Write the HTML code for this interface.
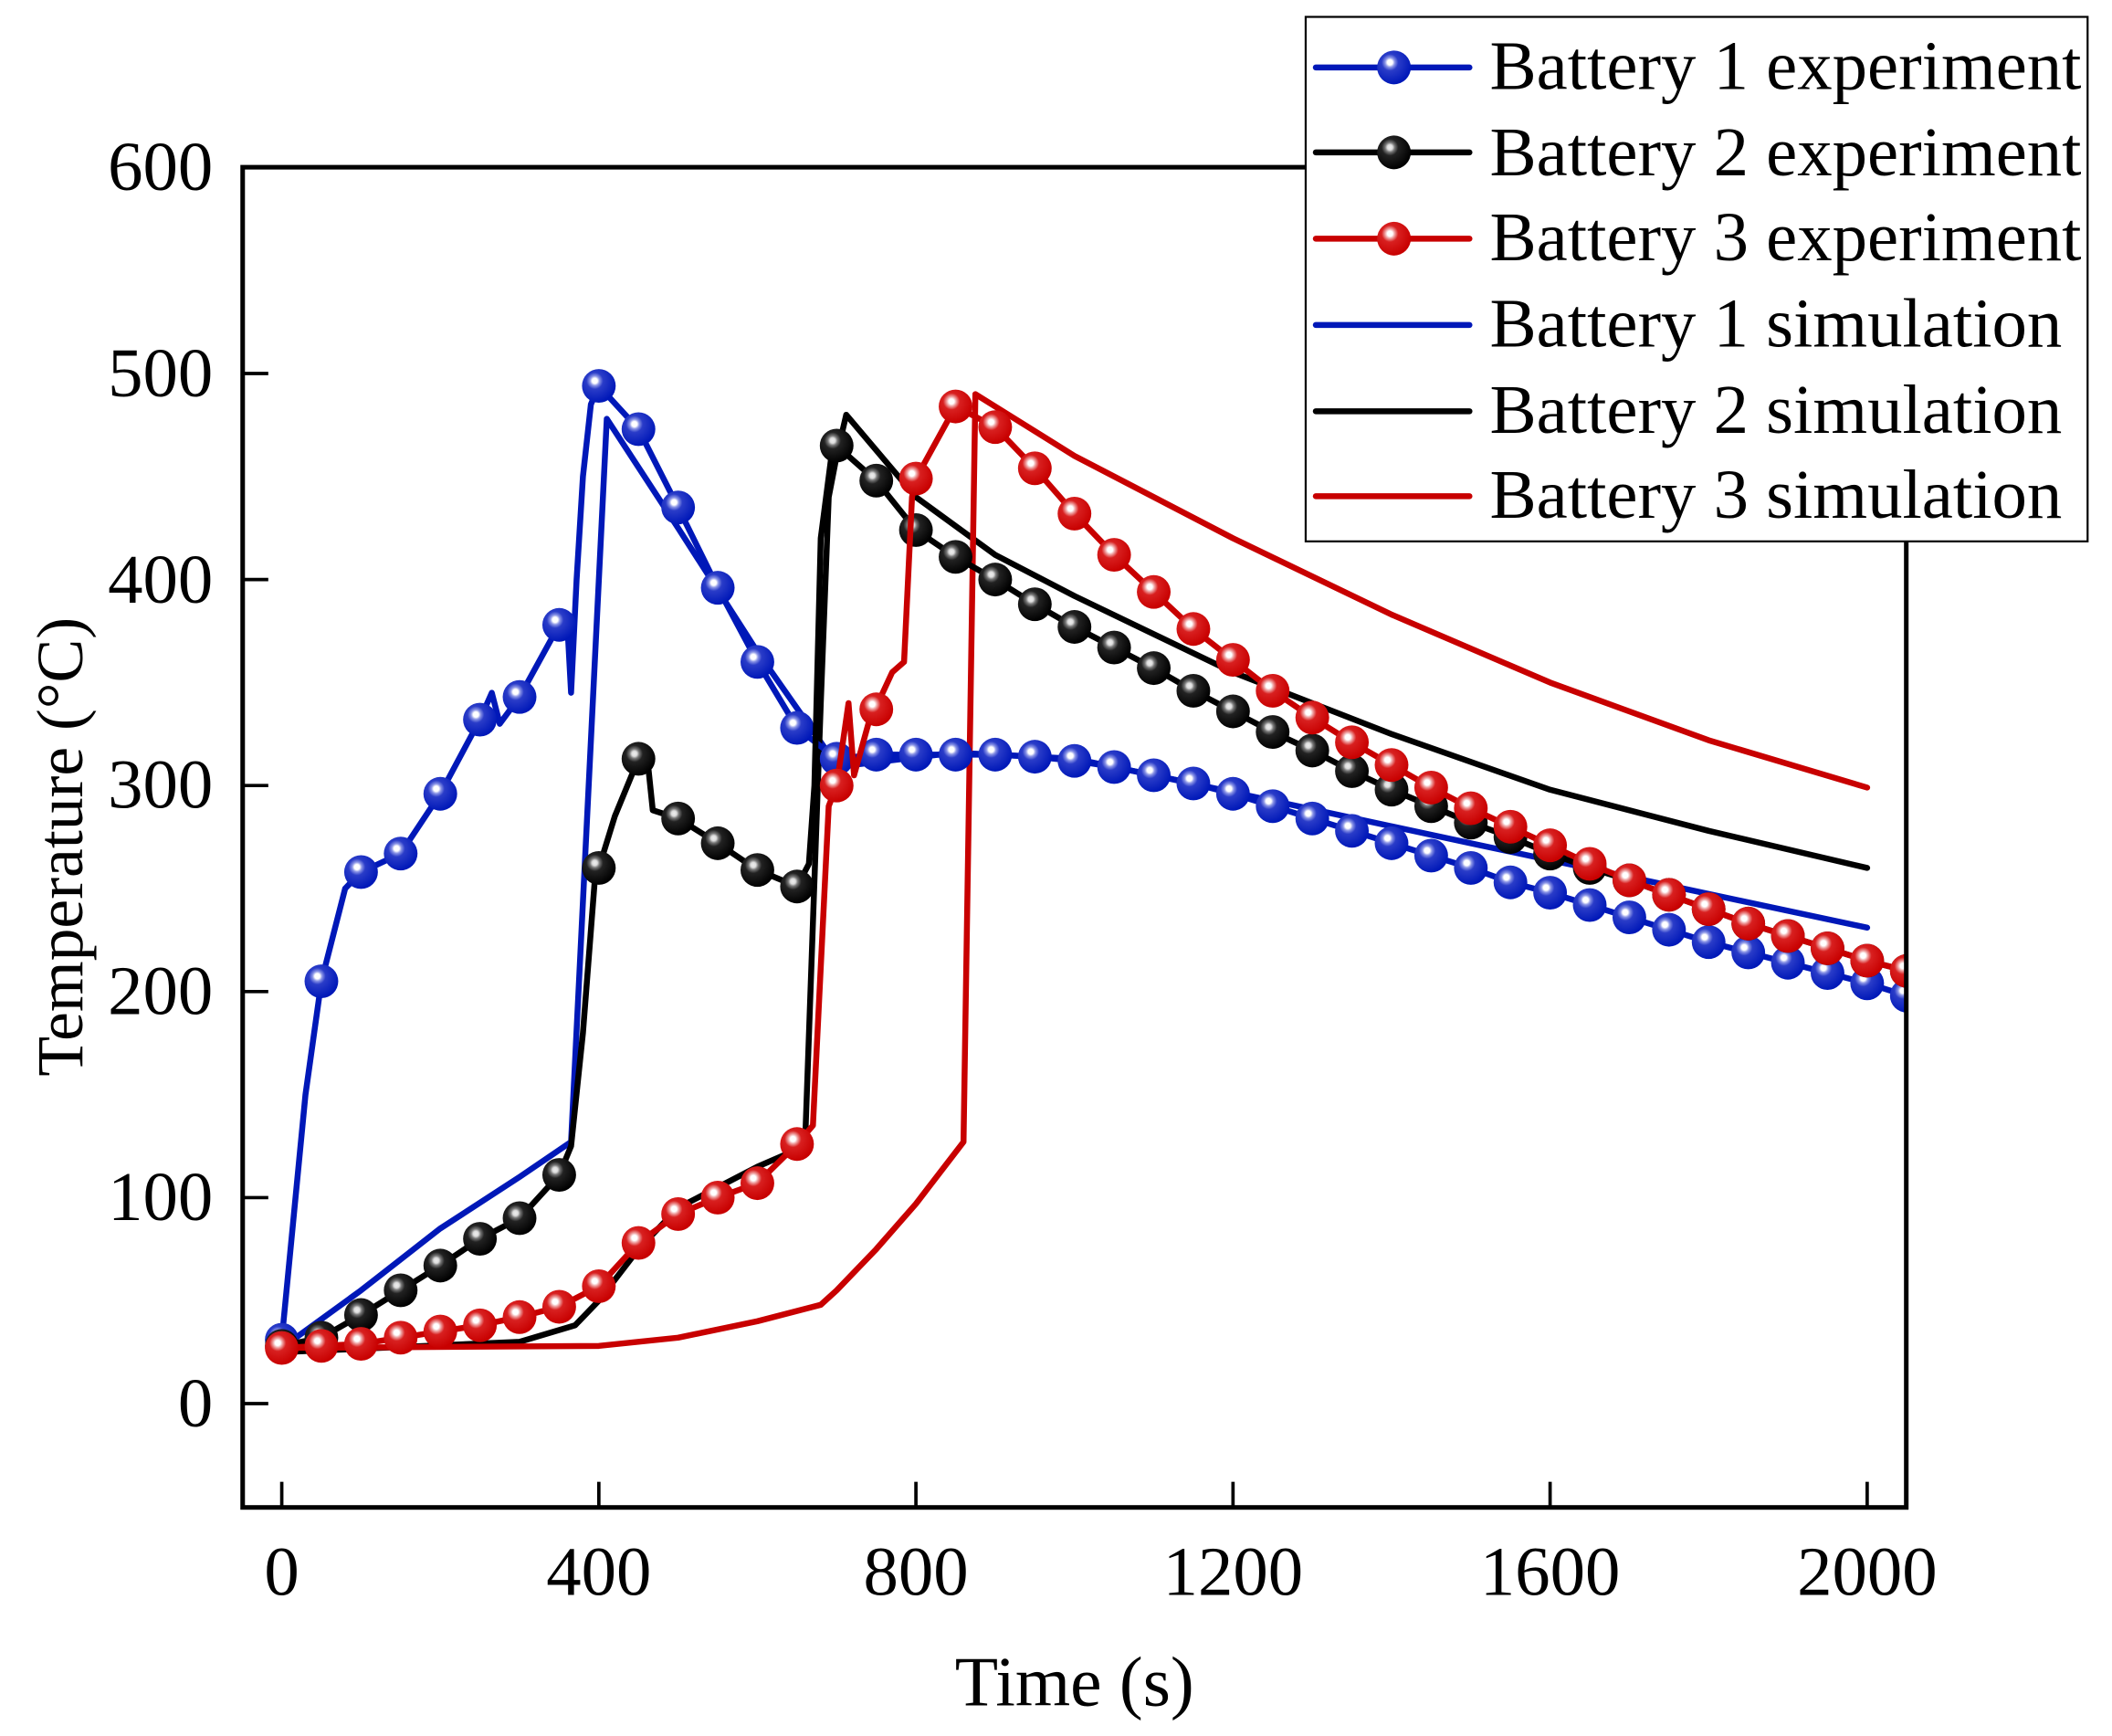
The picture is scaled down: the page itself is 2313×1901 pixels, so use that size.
<!DOCTYPE html>
<html><head><meta charset="utf-8"><style>html,body{margin:0;padding:0;background:#fff}svg{display:block}</style></head>
<body>
<svg id="s" width="2313" height="1901" viewBox="0 0 1566.6 1287.5" xmlns="http://www.w3.org/2000/svg" font-family="'Liberation Serif',serif">
<defs>
<radialGradient id="gb" cx="0.38" cy="0.35" r="0.65"><stop offset="0" stop-color="#fff"/><stop offset="0.12" stop-color="#fff"/><stop offset="0.22" stop-color="#8a94e6"/><stop offset="0.38" stop-color="#2a3cc8"/><stop offset="1" stop-color="#0018b8"/></radialGradient>
<radialGradient id="gk" cx="0.38" cy="0.35" r="0.65"><stop offset="0" stop-color="#eee"/><stop offset="0.12" stop-color="#ddd"/><stop offset="0.22" stop-color="#777"/><stop offset="0.38" stop-color="#222"/><stop offset="1" stop-color="#000"/></radialGradient>
<radialGradient id="gr" cx="0.38" cy="0.35" r="0.65"><stop offset="0" stop-color="#fff"/><stop offset="0.12" stop-color="#fff"/><stop offset="0.22" stop-color="#eea0a0"/><stop offset="0.38" stop-color="#d82020"/><stop offset="1" stop-color="#c80000"/></radialGradient>
<clipPath id="cp"><rect x="180" y="124" width="1234" height="994"/></clipPath>
</defs>
<g id="data" clip-path="url(#cp)"></g>
<rect x="180" y="124" width="1234" height="994" fill="none" stroke="#000" stroke-width="3.4"/>
<g stroke="#000" stroke-width="2.5">
<line x1="209" y1="1118" x2="209" y2="1099"/><line x1="444.2" y1="1118" x2="444.2" y2="1099"/><line x1="679.4" y1="1118" x2="679.4" y2="1099"/><line x1="914.6" y1="1118" x2="914.6" y2="1099"/><line x1="1149.8" y1="1118" x2="1149.8" y2="1099"/><line x1="1385" y1="1118" x2="1385" y2="1099"/>
<line x1="180" y1="1041" x2="199" y2="1041"/><line x1="180" y1="888.2" x2="199" y2="888.2"/><line x1="180" y1="735.4" x2="199" y2="735.4"/><line x1="180" y1="582.6" x2="199" y2="582.6"/><line x1="180" y1="429.8" x2="199" y2="429.8"/><line x1="180" y1="277" x2="199" y2="277"/><line x1="180" y1="124" x2="199" y2="124"/>
</g>
<g font-size="52" text-anchor="middle" fill="#000">
<text x="209" y="1183">0</text><text x="444.2" y="1183">400</text><text x="679.4" y="1183">800</text><text x="914.6" y="1183">1200</text><text x="1149.8" y="1183">1600</text><text x="1385" y="1183">2000</text>
</g>
<g font-size="52" text-anchor="end" fill="#000">
<text x="158" y="1058">0</text><text x="158" y="905">100</text><text x="158" y="752">200</text><text x="158" y="599">300</text><text x="158" y="447">400</text><text x="158" y="294">500</text><text x="158" y="141">600</text>
</g>
<text x="797" y="1265" font-size="52.5" text-anchor="middle">Time (s)</text>
<text transform="translate(61,628) rotate(-90)" font-size="48.5" text-anchor="middle">Temperature (°C)</text>
<rect x="968.5" y="12.5" width="580" height="389" fill="#fff" stroke="#000" stroke-width="1.5"/>
<g id="leg"></g>
<g font-size="52" fill="#000">
<text x="1105" y="66">Battery 1 experiment</text>
<text x="1105" y="130">Battery 2 experiment</text>
<text x="1105" y="193">Battery 3 experiment</text>
<text x="1105" y="257">Battery 1 simulation</text>
<text x="1105" y="321">Battery 2 simulation</text>
<text x="1105" y="384">Battery 3 simulation</text>
</g>
</svg>
<script>
var NS="http://www.w3.org/2000/svg";
function X(t){return 209+0.588*t}function Y(T){return 1041-1.528*T}
var B="#0018b8",K="#000",R="#c80000";
function line(g,pts,c){var p=document.createElementNS(NS,"polyline");p.setAttribute("points",pts.map(function(a){return X(a[0]).toFixed(1)+","+Y(a[1]).toFixed(1)}).join(" "));p.setAttribute("fill","none");p.setAttribute("stroke",c);p.setAttribute("stroke-width","4.4");p.setAttribute("stroke-linejoin","round");p.setAttribute("stroke-linecap","round");g.appendChild(p)}
function mk(g,x,y,f){var c=document.createElementNS(NS,"circle");c.setAttribute("cx",x);c.setAttribute("cy",y);c.setAttribute("r","12.5");c.setAttribute("fill","url(#"+f+")");g.appendChild(c)}
var g=document.getElementById("data");
var b1s=[[0,27],[100,55],[200,85],[300,110],[365,127],[410,478],[500,425],[600,365],[700,310],[720,310],[850,316],[1000,313],[1100,305],[1500,272],[2000,231]];
var b2s=[[0,25],[300,30],[370,38],[400,50],[450,75],[500,95],[550,105],[600,115],[660,125],[680,340],[690,440],[700,460],[712,480],[800,440],[900,412],[1000,392],[1200,355],[1400,325],[1600,298],[1800,278],[2000,260]];
var b3s=[[0,27],[400,28],[500,32],[600,40],[680,48],[700,55],[750,75],[800,97],[860,127],[875,490],[1000,460],[1200,420],[1400,383],[1600,350],[1800,322],[2000,299]];
var b1m=[[0,31],[50,205],[100,258],[150,267],[200,296],[250,332],[300,343],[350,378],[400,494],[450,473],[500,435],[550,396],[600,360],[650,328],[700,313],[750,315],[800,315],[850,315],[900,315],[950,314],[1000,312],[1050,309],[1100,305],[1150,301],[1200,296],[1250,290],[1300,284],[1350,278],[1400,272],[1450,266],[1500,260],[1550,253],[1600,248],[1650,242],[1700,236],[1750,230],[1800,224],[1850,219],[1900,214],[1950,209],[2000,204],[2050,198]];
var b1l=[[0,31],[30,150],[50,205],[80,250],[100,258],[150,267],[200,296],[250,332],[265,345],[275,330],[300,343],[350,378],[360,380],[365,345],[372,400],[380,450],[390,485],[400,494],[450,473],[500,435],[550,396],[600,360],[650,328],[700,313]].concat(b1m.slice(15));
var b2m=[[0,28],[50,32],[100,43],[150,55],[200,67],[250,80],[300,90],[350,111],[400,260],[450,313],[500,284],[550,272],[600,259],[650,251],[700,465],[750,448],[800,424],[850,411],[900,400],[950,388],[1000,377],[1050,367],[1100,357],[1150,346],[1200,336],[1250,326],[1300,317],[1350,307],[1400,298],[1450,290],[1500,282],[1550,275],[1600,267],[1650,260],[1700,254],[1750,247],[1800,240],[1850,233],[1900,227],[1950,221],[2000,215],[2050,210]];
var b2l=b2m.slice(0,8).concat([[365,125],[380,180],[395,255],[400,260],[420,285],[450,313],[462,310],[468,288],[500,284],[550,272],[600,259],[650,251],[665,262],[672,300],[680,420],[695,465],[700,465]]).concat(b2m.slice(15));
var b3m=[[0,27],[50,28],[100,29],[150,32],[200,35],[250,38],[300,42],[350,47],[400,57],[450,78],[500,92],[550,100],[600,107],[650,126],[700,300],[750,337],[800,449],[850,484],[900,474],[950,454],[1000,432],[1050,412],[1100,394],[1150,376],[1200,361],[1250,346],[1300,333],[1350,321],[1400,310],[1450,299],[1500,289],[1550,280],[1600,271],[1650,262],[1700,254],[1750,247],[1800,240],[1850,233],[1900,227],[1950,221],[2000,215],[2050,210]];
var b3l=b3m.slice(0,14).concat([[670,135],[690,290],[700,300],[715,340],[722,305],[740,330],[770,355],[785,360],[795,440],[800,449]]).concat(b3m.slice(17));
line(g,b1s,B);line(g,b2s,K);line(g,b3s,R);
line(g,b1l,B);b1m.forEach(function(a){mk(g,X(a[0]),Y(a[1]),"gb")});
line(g,b2l,K);b2m.forEach(function(a){mk(g,X(a[0]),Y(a[1]),"gk")});
line(g,b3l,R);b3m.forEach(function(a){mk(g,X(a[0]),Y(a[1]),"gr")});
var L=document.getElementById("leg");
[[50,B,"gb"],[113,K,"gk"],[177,R,"gr"],[241,B],[305,K],[368,R]].forEach(function(e){
 var l=document.createElementNS(NS,"line");l.setAttribute("x1",976);l.setAttribute("x2",1090);l.setAttribute("y1",e[0]);l.setAttribute("y2",e[0]);l.setAttribute("stroke",e[1]);l.setAttribute("stroke-width","4.4");l.setAttribute("stroke-linecap","round");L.appendChild(l);
 if(e[2])mk(L,1034,e[0],e[2]);});
</script>
</body></html>
